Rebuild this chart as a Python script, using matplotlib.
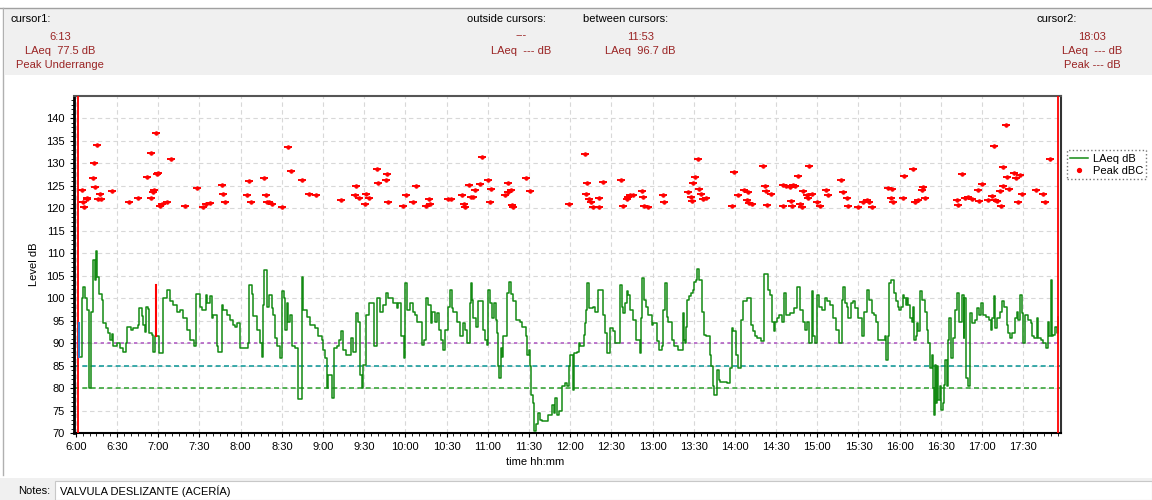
import numpy as np
import matplotlib.pyplot as plt
from matplotlib.patches import Rectangle
from matplotlib.lines import Line2D

plt.rcParams['font.family'] = ['Liberation Sans', 'DejaVu Sans']

# LAeq step line: minutes after 6:00 and level in dB
laeq_t = [2.3, 4.7, 4.9, 6.9, 7.8, 9.3, 11.0, 12.7, 13.7, 14.6, 15.6, 16.6, 19.0, 20.0, 21.9,
          23.6, 24.8, 26.1, 27.3, 29.7, 32.1, 34.5, 36.5, 37.5, 39.9, 41.8, 45.5, 46.0, 47.9,
          49.1, 50.3, 51.1, 52.8, 53.2, 55.2, 56.4, 57.6, 60.8, 63.7, 66.1, 68.5, 71.0, 73.4,
          75.8, 78.3, 81.2, 83.1, 86.0, 87.5, 90.4, 91.6, 94.5, 95.7, 97.7, 98.9, 100.1, 102.5,
          103.7, 106.2, 107.4, 109.8, 112.2, 114.7, 115.9, 117.1, 119.5, 125.6, 126.3, 128.0,
          129.2, 131.7, 134.1, 135.3, 136.0, 137.2, 138.9, 140.5, 142.6, 143.3, 145.0, 146.7,
          148.7, 149.9, 151.6, 152.3, 153.5, 154.8, 156.0, 157.2, 159.6, 161.6, 162.0, 164.5,
          165.7, 168.1, 170.5, 174.2, 176.6, 179.0, 180.2, 181.5, 182.7, 183.2, 183.9, 186.3,
          188.0, 190.0, 191.9, 193.1, 194.8, 196.8, 200.2, 201.6, 204.0, 205.7, 207.0, 208.2,
          209.4, 211.1, 213.8, 217.2, 219.1, 221.5, 224.0, 225.9, 227.6, 231.2, 233.7, 234.9,
          236.6, 239.0, 239.7, 241.4, 243.4, 245.3, 247.0, 248.7, 251.9, 253.6, 254.8, 256.7,
          258.4, 259.6, 261.6, 262.8, 264.7, 265.7, 267.6, 268.9, 271.3, 272.5, 273.7, 274.9,
          277.4, 279.8, 282.2, 283.4, 285.1, 287.1, 287.8, 288.5, 289.5, 291.1, 293.1, 296.2,
          297.9, 299.1, 300.4, 301.6, 303.3, 304.5, 305.9, 306.9, 307.4, 308.4, 309.6, 310.6,
          311.3, 314.2, 315.7, 316.6, 318.1, 320.5, 323.4, 324.6, 327.5, 328.8, 330.0, 330.7,
          331.7, 332.6, 333.9, 335.1, 336.8, 338.0, 339.2, 344.1, 346.5, 348.2, 348.9, 350.6,
          351.8, 353.8, 356.2, 357.4, 359.4, 359.8, 361.8, 362.8, 364.7, 366.2, 367.1, 370.0,
          370.8, 371.5, 372.5, 373.9, 376.4, 378.1, 380.5, 384.1, 385.3, 386.5, 389.0, 390.9,
          392.6, 396.3, 397.5, 398.7, 399.9, 401.1, 402.3, 403.5, 406.0, 407.9, 410.8, 411.3,
          412.5, 413.7, 415.2, 416.9, 419.3, 420.5, 423.0, 424.9, 426.6, 427.8, 429.0, 430.3,
          431.5, 433.9, 434.5, 436.0, 438.7, 442.4, 442.9, 443.6, 444.4, 445.3, 446.8, 448.0,
          449.2, 450.2, 451.6, 452.6, 453.6, 456.0, 457.5, 458.9, 461.8, 462.8, 463.8, 464.7,
          466.7, 468.1, 469.1, 474.0, 476.4, 477.6, 478.8, 480.8, 482.0, 484.2, 485.6, 489.0,
          491.5, 492.9, 494.4, 495.8, 498.7, 501.4, 504.1, 505.5, 507.0, 508.5, 509.4, 510.4,
          512.3, 514.0, 515.7, 516.9, 520.1, 523.0, 525.4, 527.4, 529.8, 531.0, 532.3, 534.2,
          535.9, 537.1, 538.3, 539.5, 541.0, 543.2, 545.6, 546.8, 549.2, 551.7, 553.4, 556.0,
          557.7, 558.9, 560.2, 561.4, 562.6, 564.3, 566.2, 567.5, 569.9, 572.3, 574.0, 576.0,
          577.9, 579.6, 581.3, 582.5, 583.9, 584.4, 589.3, 590.0, 591.7, 592.2, 593.6, 595.6,
          597.0, 598.5, 599.5, 600.9, 602.4, 603.3, 604.3, 605.3, 606.3, 607.2, 608.7, 609.7,
          610.6, 611.6, 612.6, 613.5, 614.8, 616.5, 618.4, 619.9, 620.8, 622.3, 623.3, 624.2,
          625.0, 625.7, 626.4, 627.1, 628.1, 629.1, 630.3, 631.3, 632.2, 633.0, 634.4, 635.4,
          635.9, 637.3, 638.8, 640.3, 642.0, 643.2, 645.6, 646.6, 646.8, 648.0, 649.5, 651.4,
          652.9, 654.8, 656.3, 657.7, 659.2, 660.9, 662.6, 665.0, 666.5, 667.4, 668.4, 669.4,
          670.6, 673.0, 674.2, 676.2, 677.9, 679.1, 680.3, 682.0, 684.0, 685.2, 686.4, 687.6,
          688.8, 690.0, 691.2, 693.7, 695.6, 696.6, 698.0, 699.7, 701.0, 702.9, 704.6, 706.5,
          707.8, 709.0, 709.9, 710.7, 711.9, 713.1, 714.3, 715.0]
laeq_v = [87, 100, 102.6, 100, 97.4, 80, 97, 108.5, 104, 110.4, 104.8, 101, 99.6, 94.4, 93.3,
          92.2, 90.7, 92, 89.3, 90, 88.9, 88.1, 90, 93.7, 93, 93.3, 94, 97.8, 96,
          94, 92.5, 98, 97.5, 92.2, 91.8, 88.1, 91.5, 87.8, 100, 101.9, 99.3, 98.5, 97,
          97.4, 95.6, 93, 90.7, 89.3, 101, 98.1, 97.4, 100.7, 98.9, 100.4, 95.6, 96.3, 89.3,
          88.1, 98.5, 97.4, 96.3, 95.2, 94, 93.5, 94.5, 88.9, 90, 103, 101,
          96, 93, 90, 87, 98.5, 106.3, 98.1, 100.7, 97.8, 96.3, 91.1, 89.3,
          86.7, 101.5, 100, 93, 98.9, 94.8, 96.3, 89.3, 88.9, 87.8, 77.6, 104.7,
          97.4, 95.9, 94, 93.3, 91.5, 90.7, 88.5, 86.7, 84.8, 80, 83, 77.8,
          88.9, 89.3, 90.7, 92.6, 88.5, 87.4, 91.1, 88.1, 96.7, 94.8, 83, 80,
          85.2, 96.3, 98.9, 89.3, 100, 97, 98.5, 101.1, 100, 98.9, 97.8, 98.9,
          91.5, 86.7, 103.3, 97.4, 98.9, 97, 96.3, 94.8, 89.6, 90.7, 100, 98.5,
          94.4, 97, 94.8, 96.7, 93, 90.7, 88.5, 93, 98.1, 101.9, 97.8, 97,
          94.8, 91.5, 94.4, 93, 90, 98.9, 103.3, 99.6, 95.6, 93.7, 99.3, 93,
          90.7, 89.6, 101.9, 98.9, 95.6, 98.9, 95.2, 92.2, 84.8, 82.2, 88.9, 87,
          91.5, 101.1, 103.7, 101, 99.3, 95.2, 94.8, 93.7, 91.5, 87.4, 88.5, 84.8,
          78.5, 76.7, 70.4, 71.9, 74.4, 73, 72.6, 74.1, 76.3, 74.4, 77.8, 74.1,
          74.8, 80.4, 81.1, 80.4, 84.8, 87.4, 79.6, 87.8, 88.1, 90, 89.3, 91.9,
          94.4, 97.4, 103.3, 97.8, 98.1, 97, 101.9, 96.3, 92.2, 87.8, 93.3, 92.6,
          90, 103, 98.1, 96.7, 98.9, 101.5, 100.7, 97.4, 95.2, 90.7, 87.8, 95.6,
          104.4, 99.6, 98.1, 96.3, 94, 94.4, 90.4, 88.5, 89.3, 97.4, 103.3, 95.9,
          94.8, 93.7, 90.7, 89.3, 88.5, 96.8, 90.7, 90, 93.7, 99.6, 100.4, 101.1,
          101.9, 103.7, 104.1, 106.4, 104.1, 97, 91.9, 91.5, 87.4, 84.8, 80.4, 78.5,
          84.1, 81.9, 81.3, 81.1, 84.4, 93.3, 92.6, 87.4, 84.4, 95.2, 99.3, 100,
          94, 92.6, 91.5, 91.1, 90.4, 105.3, 101.9, 100.7, 94.8, 92.6, 94.8, 95.6,
          96.3, 94.8, 101.1, 96.3, 96.7, 97.8, 102.6, 97.4, 94.8, 93, 94.8, 90,
          101.5, 91.5, 90, 100.7, 98.1, 97.4, 100, 99.3, 98.5, 95.6, 93, 90,
          99.6, 102.6, 98.9, 98.1, 95.6, 98.9, 99.3, 97.8, 95.6, 91.5, 97, 101.9,
          99.6, 96.7, 96.3, 94.8, 91.5, 90.7, 91.5, 86.3, 91.5, 103.3, 104.1, 101.1,
          99.3, 98.1, 97.4, 98.1, 100.7, 100, 98.5, 100, 98.5, 95.6, 94.8, 98.1,
          90.7, 91.5, 94.4, 92.6, 101.5, 99.6, 97, 93, 90, 84.4, 87.4, 80,
          74.1, 85.2, 76.7, 84.8, 77.4, 80.4, 75.2, 76.7, 80.7, 86.3, 80.4, 90.7,
          95.6, 86.7, 91.1, 97.4, 101.1, 94.8, 100.7, 91.1, 100, 82.2, 80.4, 96.7,
          94.4, 95.2, 97.8, 96.3, 98.9, 96.3, 95.9, 95.2, 93, 95.6, 100.4, 93.3,
          95.6, 97, 99.3, 98.1, 94, 92.2, 91.1, 92.2, 95.6, 97, 95.2, 100.7,
          96.7, 90, 96.3, 95.2, 94.4, 91.5, 91.1, 95.6, 91.1, 90.7, 90, 88.9,
          94.8, 91.5, 104.1, 91.5, 91.8, 93.7, 92.2, 95.9]

# Peak dBC points
peak_t = [4.2, 5.4, 6.1, 7.9, 8.3, 12.7, 13.4, 14.1, 15.6, 15.9, 17.6, 18.3, 26.3, 38.5, 45.0,
          51.6, 54.5, 54.7, 56.4, 57.1, 58.1, 59.3, 60.0, 61.3, 62.9, 66.6, 69.5, 79.5, 88.0,
          92.3, 94.5, 97.7, 106.2, 106.9, 108.6, 124.8, 126.3, 127.3, 137.2, 138.2, 138.9,
          140.9, 142.6, 150.3, 154.7, 156.7, 164.7, 170.0, 174.9, 193.3, 204.0, 203.5, 206.0,
          210.8, 211.3, 213.7, 219.1, 219.8, 225.6, 226.8, 227.5, 238.0, 240.4, 245.3, 247.7,
          255.0, 257.4, 257.9, 271.3, 273.0, 281.0, 282.7, 283.4, 286.6, 287.5, 289.0, 290.9,
          294.3, 295.8, 299.9, 301.6, 302.4, 312.5, 314.5, 315.0, 316.9, 317.9, 318.6, 327.6,
          330.8, 359.4, 370.8, 372.0, 371.6, 374.0, 375.0, 376.4, 381.3, 381.3, 383.7, 396.8,
          398.7, 401.2, 402.4, 403.6, 405.5, 412.1, 412.8, 413.8, 417.0, 427.9, 428.4, 446.1,
          447.8, 448.5, 449.3, 451.0, 453.4, 454.1, 455.1, 456.5, 459.0, 477.7, 479.6, 482.0,
          486.9, 489.8, 488.6, 490.5, 492.2, 500.7, 501.9, 502.6, 503.6, 506.3, 514.8, 515.3,
          517.2, 520.1, 520.6, 521.3, 522.5, 523.8, 525.7, 527.4, 528.6, 529.3, 532.3, 533.5,
          534.2, 535.9, 539.5, 542.0, 546.3, 548.0, 557.3, 559.0, 561.9, 562.6, 569.9, 573.5,
          576.0, 577.9, 579.6, 591.7, 594.2, 593.4, 595.4, 602.7, 603.4, 609.9, 611.2, 613.6,
          616.0, 616.8, 618.5, 641.5, 642.7, 645.2, 647.6, 650.0, 652.4, 657.3, 658.0, 659.7,
          664.6, 667.0, 668.7, 669.7, 670.7, 673.1, 673.6, 675.0, 675.5, 677.2, 678.4, 679.9,
          683.3, 684.7, 686.4, 687.6, 688.9, 699.1, 704.6, 705.9, 709.5]
peak_v = [124.1, 121.5, 120.4, 122.4, 122, 126.7, 130.2, 124.8, 134.1, 122, 123.1, 122, 123.9,
          121.3, 122.4, 126.9, 132.4, 122.4, 123.7, 124.1, 136.7, 127.6, 127.8, 120.6, 121,
          121.3, 131, 120.5, 124.6, 120.2, 121, 121.1, 125.2, 123.3, 121.3, 122.9, 126, 121.3,
          126.7, 122.9, 121.3, 121.3, 121, 120.2, 133.6, 128.4, 126.4, 123.1, 122.9, 121.8, 125,
          122.9, 122.2, 121, 123.1, 122.4, 128.7, 125.7, 126.4, 127.6, 121.5, 120.5, 122.9,
          121.3, 125, 120.5, 122, 121, 122, 122, 122.9, 121, 120.4, 125.3, 122.6, 122.6, 124.1,
          125.5, 131.5, 126.4, 121.4, 124.4, 122.9, 125.7, 123.7, 124, 120.7, 120.4, 126.7,
          123.9, 121, 132.2, 125.6, 123.3, 122, 121.3, 120.4, 122.2, 120.2, 125.8, 126.3,
          120.5, 122.1, 122.6, 123, 123, 123.9, 122.6, 120.5, 120.3, 122.9, 121.5, 123.7,
          122.6, 121.6, 125.7, 126.9, 131, 124.4, 123.2, 122.1, 122.4, 120.5, 128.1, 122.9,
          124.1, 123.6, 121.9, 121.1, 121, 129.5, 125, 123.9, 120.7, 123.3, 120.5, 125.2,
          125, 124.7, 121.7, 120.5, 125.2, 125, 127.3, 121, 120.4, 123.9, 122.9, 122.4,
          129.4, 123.2, 121.3, 120.5, 124.1, 123, 126.2, 123.6, 122.4, 120.5, 120.4, 121.4,
          121.9, 121.5, 120.4, 124.5, 124.4, 122.4, 121.5, 122.4, 127.2, 128.8, 121.5, 121.9,
          124.1, 124.7, 122.2, 121.9, 120.7, 127.6, 122.4, 122.6, 122, 124.1, 121.7, 125.4,
          121.9, 122.7, 133.9, 121.9, 121.7, 123.9, 120.5, 129.3, 125, 138.6, 126.9, 124.3,
          127.9, 126.7, 121.4, 127.4, 123.1, 124.1, 123.3, 121.4, 131]

limit_levels = [90, 85, 80]
limit_colors = ['#b25fc4', '#1a9c9c', '#3aa63a']
limit_styles = [(0, (2, 2)), (0, (3, 2)), (0, (3, 2))]

xtick_pos = list(range(0, 720, 30))
xtick_labels = ['6:00', '6:30', '7:00', '7:30', '8:00', '8:30', '9:00', '9:30', '10:00',
                '10:30', '11:00', '11:30', '12:00', '12:30', '13:00', '13:30', '14:00',
                '14:30', '15:00', '15:30', '16:00', '16:30', '17:00', '17:30']

cursor1_t = 1.7
cursor2_t = 715.5

fig = plt.figure(figsize=(11.52, 5), dpi=100)

# header panel and notes bar
fig.patches.append(Rectangle((0.004, 0.85), 0.996, 0.134, transform=fig.transFigure,
                             facecolor='#f0f0f0', edgecolor='none', zorder=0))
fig.add_artist(Line2D([0, 1], [0.984, 0.984], color='#a0a0a0', lw=1))
fig.add_artist(Line2D([0.003, 0.003], [0.05, 0.984], color='#b0b0b0', lw=1))
fig.patches.append(Rectangle((0.0, 0.0), 1, 0.045, transform=fig.transFigure,
                             facecolor='#f0f0f0', edgecolor='none', zorder=0))
fig.patches.append(Rectangle((0.048, 0.0), 0.952, 0.038, transform=fig.transFigure,
                             facecolor='white', edgecolor='#c8c8c8', lw=0.8, zorder=0))
fig.text(0.016, 0.018, 'Notes:', fontsize=8, va='center')
fig.text(0.052, 0.018, 'VALVULA DESLIZANTE (ACERÍA)', fontsize=8, va='center')

dark_red = '#9a2424'
fig.text(0.009, 0.962, 'cursor1:', fontsize=8, va='center')
fig.text(0.052, 0.926, '6:13', fontsize=8, va='center', ha='center', color=dark_red)
fig.text(0.052, 0.898, 'LAeq  77.5 dB', fontsize=8, va='center', ha='center', color=dark_red)
fig.text(0.052, 0.870, 'Peak Underrange', fontsize=8, va='center', ha='center', color=dark_red)
fig.text(0.405, 0.962, 'outside cursors:', fontsize=8, va='center')
fig.text(0.452, 0.930, '---', fontsize=8, va='center', ha='center', color=dark_red)
fig.text(0.452, 0.898, 'LAeq  --- dB', fontsize=8, va='center', ha='center', color=dark_red)
fig.text(0.506, 0.962, 'between cursors:', fontsize=8, va='center')
fig.text(0.556, 0.926, '11:53', fontsize=8, va='center', ha='center', color=dark_red)
fig.text(0.556, 0.898, 'LAeq  96.7 dB', fontsize=8, va='center', ha='center', color=dark_red)
fig.text(0.9, 0.962, 'cursor2:', fontsize=8, va='center')
fig.text(0.948, 0.926, '18:03', fontsize=8, va='center', ha='center', color=dark_red)
fig.text(0.948, 0.898, 'LAeq  --- dB', fontsize=8, va='center', ha='center', color=dark_red)
fig.text(0.948, 0.870, 'Peak --- dB', fontsize=8, va='center', ha='center', color=dark_red)

ax = fig.add_axes([0.0642, 0.134, 0.8568, 0.674])
ax.set_xlim(-1.4, 717.5)
ax.set_ylim(70, 145)

for lvl, col, ls in zip(limit_levels, limit_colors, limit_styles):
    ax.axhline(lvl, color=col, lw=1.2, ls=ls, zorder=2)

ax.step(laeq_t, laeq_v, where='post', color='#138a13', lw=1.1, zorder=3, label='LAeq dB')
ax.plot(peak_t, peak_v, ls='none', marker='o', ms=2.6, mfc='red', mec='red', mew=0.5,
        zorder=4, label='Peak dBC')
ax.plot(peak_t, peak_v, ls='none', marker='_', ms=6, mec='red', mew=1.4, zorder=4)

# cursors and markers
ax.axvline(cursor1_t, color='red', lw=1.3, zorder=5)
ax.axvline(cursor2_t, color='red', lw=1.3, zorder=5)
ax.plot([58.3, 58.3], [91.5, 103], color='red', lw=1.5, zorder=5)
ax.plot([2.0, 2.0], [87, 94.5], color='#2a7fd4', lw=1.5, zorder=5)

ax.set_xticks(xtick_pos)
ax.set_xticklabels(xtick_labels)
ax.set_xticks(np.arange(0, 720, 5), minor=True)
ax.set_yticks(np.arange(70, 141, 5))
ax.set_yticks(np.arange(70, 145, 1), minor=True)
ax.tick_params(axis='both', labelsize=8, length=3, width=0.8, colors='black')
ax.tick_params(axis='both', which='minor', length=2, width=0.6)
ax.grid(True, which='major', color='#d8d8d8', ls=(0, (4, 3)), lw=0.8)
ax.set_axisbelow(True)

ax.spines['left'].set_linewidth(2)
ax.spines['bottom'].set_linewidth(1.5)
ax.spines['top'].set_color('#555555')
ax.spines['right'].set_color('#333333')
ax.spines['top'].set_linewidth(1.5)
ax.spines['right'].set_linewidth(1.5)

ax.set_ylabel('Level dB', fontsize=8)
ax.set_xlabel('time hh:mm', fontsize=8)
ax.xaxis.set_label_coords(0.467, -0.07)
ax.yaxis.set_label_coords(-0.035, 0.5)

handles = [Line2D([], [], color='#138a13', lw=1.1),
           Line2D([], [], ls='none', marker='o', ms=2.8, color='red')]
leg = ax.legend(handles, ['LAeq dB', 'Peak dBC'], loc='upper left', bbox_to_anchor=(1.004, 0.845),
                fontsize=8, frameon=True, fancybox=False, borderpad=0.3, labelspacing=0.2,
                handlelength=1.6, handletextpad=0.4, borderaxespad=0.2)
leg.get_frame().set_edgecolor('#555555')
leg.get_frame().set_linestyle(':')
leg.get_frame().set_linewidth(1)

fig.savefig('out.png', dpi=100)
